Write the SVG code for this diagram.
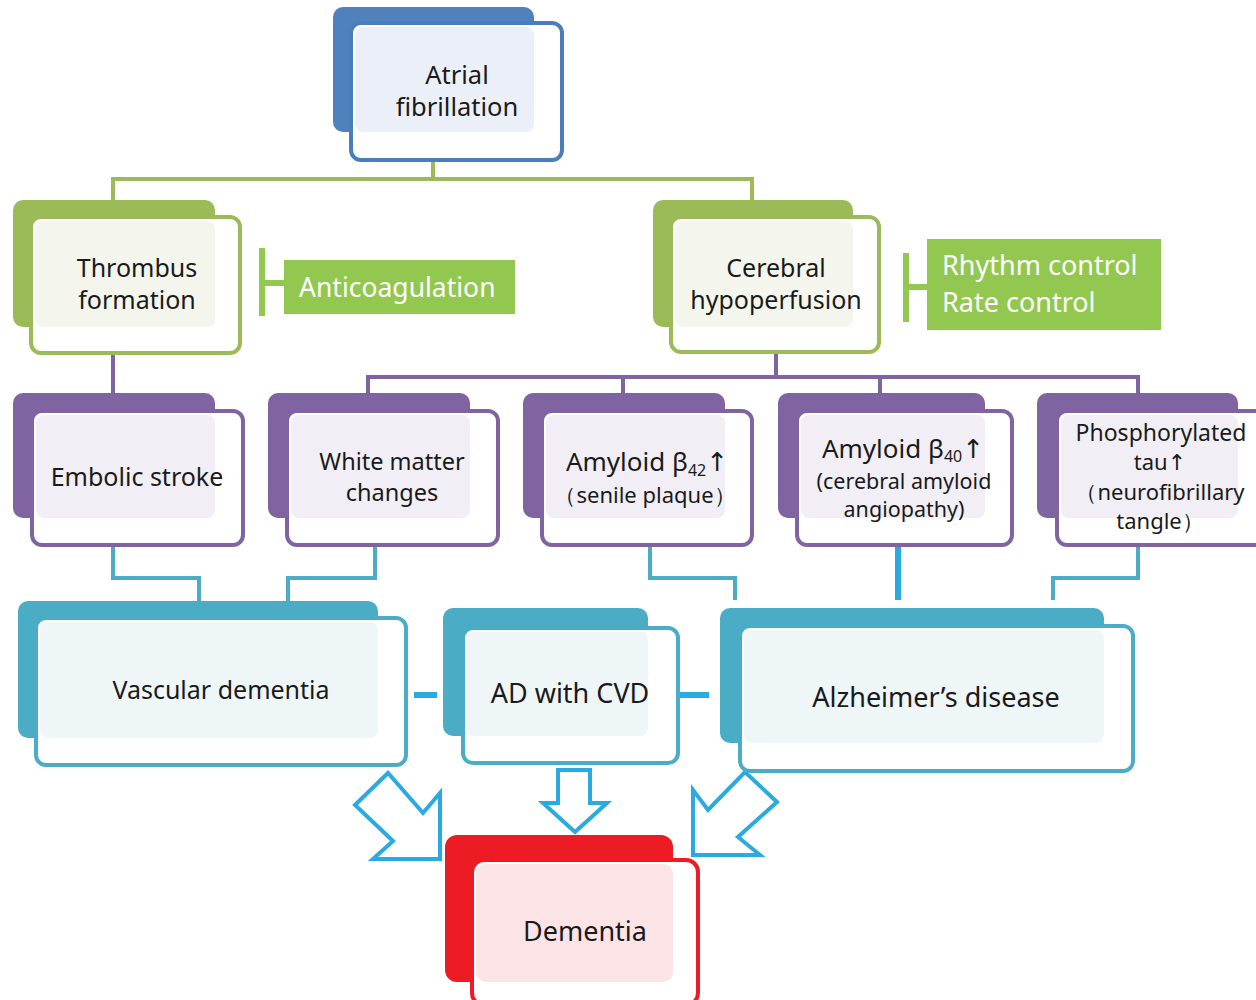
<svg xmlns="http://www.w3.org/2000/svg" width="1256" height="1000" viewBox="0 0 1256 1000">
<style>
text{font-family:"Noto Sans","Open Sans","DejaVu Sans",sans-serif;fill:#1a1a1a;text-anchor:middle}
.fr{fill:#fff;stroke-width:4}
.bb{fill:#4f81bd}.fb{stroke:#4a7ebb}.tb{fill:#ebf0f8}
.bg{fill:#9bbb59}.fg{stroke:#9bbb59}.tg{fill:#f4f6ee}
.bp{fill:#8064a2}.fp{stroke:#8064a2}.tp{fill:#f1eff5}
.bc{fill:#4bacc6}.fc{stroke:#4bacc6}.tc{fill:#eef6f8}
.br{fill:#ed1c24}.frd{stroke:#ed1c24}.tr{fill:#fce4e6}
.cg{stroke:#9bbb59;stroke-width:4;fill:none}
.cp{stroke:#8064a2;stroke-width:4;fill:none}
.cc{stroke:#4bacc6;stroke-width:4;fill:none}
.cb{stroke:#29abe2;stroke-width:6;fill:none}
.ba{fill:#fff;stroke:#29abe2;stroke-width:4;stroke-linejoin:miter}
.tr-box{fill:#92c84f}
.wt{fill:#fff;text-anchor:start}
.inh{stroke:#92c84f;stroke-width:6;fill:none}
</style>
<g id="connectors">
<path class="cg" d="M433,160 V179 M113,200 V179 H752 V200"/>
<path class="cp" d="M113,353 V393 M776,352 V377 M368,395 V377 H1138 V395 M623,377 V393 M880,377 V393"/>
<path class="cc" d="M113,545 V578 H199 V601 M375,545 V578 H288 V601 M650,545 V578 H735 V600 M1138,545 V578 H1053 V600"/>
<path class="cb" d="M898,545 V600 M414,695 H437 M680,695 H709"/>
<path class="inh" d="M262,248 V316 M262,283 H285 M906,253 V322 M906,287 H927"/>
</g>
<g id="arrow-left"><polygon class="ba" points="355,805 388,773 423,813 440,793 440,859 373,859 393,841"/></g>
<g id="arrow-mid"><polygon class="ba" points="558,770 590,770 590,803 607,803 575,832 543,803 558,803"/></g>
<g id="arrow-right"><polygon class="ba" points="777,802 745,772 708,810 693,790 693,855 760,855 738,837"/></g>

<g id="atrial-fibrillation">
<rect class="bb" x="333" y="7" width="201" height="125" rx="10"/>
<rect class="fr fb" x="351" y="23" width="211" height="137" rx="10"/>
<rect class="tb" x="355" y="27" width="179" height="105" rx="8"/>
<text x="457" y="84" font-size="25.5">Atrial</text>
<text x="457" y="116" font-size="25.5">fibrillation</text>
</g>
<g id="thrombus-formation">
<rect class="bg" x="13" y="200" width="202" height="127" rx="10"/>
<rect class="fr fg" x="31" y="217" width="209" height="136" rx="10"/>
<rect class="tg" x="35" y="221" width="180" height="106" rx="8"/>
<text x="137" y="277" font-size="25">Thrombus</text>
<text x="137" y="309" font-size="25">formation</text>
</g>
<g id="anticoagulation">
<rect class="tr-box" x="284" y="260" width="231" height="54"/>
<text class="wt" x="299" y="297" font-size="26.5">Anticoagulation</text>
</g>
<g id="cerebral-hypoperfusion">
<rect class="bg" x="653" y="200" width="200" height="127" rx="10"/>
<rect class="fr fg" x="671" y="217" width="208" height="135" rx="10"/>
<rect class="tg" x="675" y="221" width="178" height="106" rx="8"/>
<text x="776" y="277" font-size="25">Cerebral</text>
<text x="776" y="309" font-size="25">hypoperfusion</text>
</g>
<g id="rhythm-rate-control">
<rect class="tr-box" x="927" y="239" width="234" height="91"/>
<text class="wt" x="942" y="275" font-size="27">Rhythm control</text>
<text class="wt" x="942" y="312" font-size="27">Rate control</text>
</g>
<g id="embolic-stroke">
<rect class="bp" x="13" y="393" width="202" height="125" rx="10"/>
<rect class="fr fp" x="32" y="411" width="211" height="134" rx="10"/>
<rect class="tp" x="36" y="415" width="179" height="103" rx="8"/>
<text x="137" y="486" font-size="25">Embolic stroke</text>
</g>
<g id="white-matter-changes">
<rect class="bp" x="268" y="393" width="202" height="125" rx="10"/>
<rect class="fr fp" x="287" y="411" width="211" height="134" rx="10"/>
<rect class="tp" x="291" y="415" width="179" height="103" rx="8"/>
<text x="392" y="470" font-size="23.5">White matter</text>
<text x="392" y="501" font-size="23.5">changes</text>
</g>
<g id="amyloid-b42">
<rect class="bp" x="523" y="393" width="202" height="125" rx="10"/>
<rect class="fr fp" x="542" y="411" width="210" height="134" rx="10"/>
<rect class="tp" x="546" y="415" width="179" height="103" rx="8"/>
<text x="647" y="471" font-size="26">Amyloid β<tspan font-size="16" dy="5">42</tspan><tspan dy="-5">↑</tspan></text>
<text x="645" y="503" font-size="22">（senile plaque）</text>
</g>
<g id="amyloid-b40">
<rect class="bp" x="778" y="393" width="207" height="125" rx="10"/>
<rect class="fr fp" x="797" y="411" width="215" height="134" rx="10"/>
<rect class="tp" x="801" y="415" width="184" height="103" rx="8"/>
<text x="903" y="458" font-size="26">Amyloid β<tspan font-size="16" dy="4">40</tspan><tspan dy="-4">↑</tspan></text>
<text x="904" y="489" font-size="21.5">(cerebral amyloid</text>
<text x="904" y="517" font-size="21.5">angiopathy)</text>
</g>
<g id="phosphorylated-tau">
<rect class="bp" x="1037" y="393" width="201" height="125" rx="10"/>
<rect class="fr fp" x="1057" y="411" width="215" height="134" rx="10"/>
<rect class="tp" x="1061" y="415" width="177" height="103" rx="8"/>
<text x="1161" y="441" font-size="23">Phosphorylated</text>
<text x="1160" y="470" font-size="22">tau↑</text>
<text x="1160" y="500" font-size="22">（neurofibrillary</text>
<text x="1160" y="529" font-size="22">tangle）</text>
</g>
<g id="vascular-dementia">
<rect class="bc" x="18" y="601" width="360" height="137" rx="10"/>
<rect class="fr fc" x="36" y="618" width="370" height="147" rx="10"/>
<rect class="tc" x="40" y="622" width="338" height="116" rx="8"/>
<text x="221" y="699" font-size="25">Vascular dementia</text>
</g>
<g id="ad-with-cvd">
<rect class="bc" x="443" y="608" width="205" height="128" rx="10"/>
<rect class="fr fc" x="463" y="628" width="215" height="135" rx="10"/>
<rect class="tc" x="467" y="632" width="181" height="104" rx="8"/>
<text x="570" y="703" font-size="27">AD with CVD</text>
</g>
<g id="alzheimers-disease">
<rect class="bc" x="720" y="608" width="384" height="135" rx="10"/>
<rect class="fr fc" x="740" y="626" width="393" height="145" rx="10"/>
<rect class="tc" x="744" y="630" width="360" height="113" rx="8"/>
<text x="936" y="707" font-size="27">Alzheimer’s disease</text>
</g>
<g id="dementia">
<rect class="br" x="445" y="835" width="228" height="147" rx="12"/>
<rect class="fr frd" x="472" y="860" width="226" height="145" rx="12"/>
<rect class="tr" x="476" y="864" width="197" height="118" rx="10"/>
<text x="585" y="941" font-size="27">Dementia</text>
</g>
</svg>
